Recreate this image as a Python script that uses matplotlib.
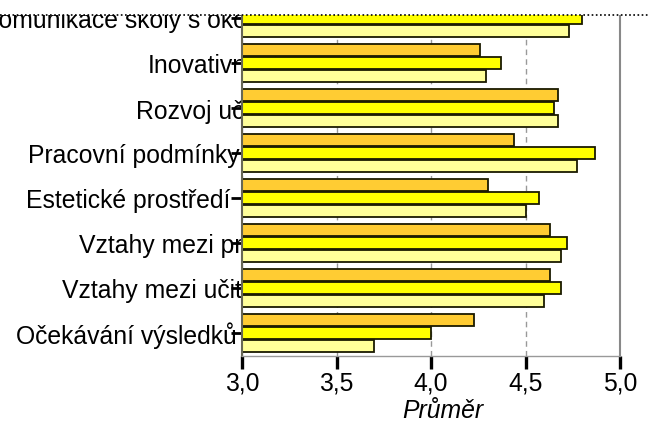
import matplotlib
matplotlib.use("Agg")
import matplotlib.pyplot as plt
from matplotlib.lines import Line2D
from matplotlib.patches import Rectangle

plt.rcParams['font.family'] = ['Liberation Sans', 'DejaVu Sans']

# bottom to top
categories = ["Očekávání výsledků", "Vztahy mezi učiteli", "Vztahy mezi pracovníky",
              "Estetické prostředí", "Pracovní podmínky", "Rozvoj učitelů",
              "Inovativnost", "Komunikace školy s okolím"]
series_a = [4.23, 4.63, 4.63, 4.30, 4.44, 4.67, 4.26, 4.78]   # orange (top bar)
series_b = [4.00, 4.69, 4.72, 4.57, 4.87, 4.65, 4.37, 4.80]   # yellow
series_c = [3.70, 4.60, 4.69, 4.50, 4.77, 4.67, 4.29, 4.73]   # light yellow
xticks = [3.0, 3.5, 4.0, 4.5, 5.0]
xtick_labels = ["3,0", "3,5", "4,0", "4,5", "5,0"]

# layout: where each label starts (pixels from the left edge)
label_x_px = [16, 62, 79, 26, 28, 136, 148, -18]

W, H = 648, 422
ax_l, ax_r, ax_b, ax_t = 242, 620, 356, 15
fs = 17.8

fig = plt.figure(figsize=(W / 100, H / 100), dpi=100)
ax = fig.add_axes([ax_l / W, 1 - ax_b / H, (ax_r - ax_l) / W, (ax_b - ax_t) / H])

xmin = 3.0
bh = 0.26
off = 0.285
colors = ['#FFCC33', '#FFFF00', '#FFFF99']
for vals, dy, c in zip([series_a, series_b, series_c], [off, 0, -off], colors):
    ax.barh([i + dy for i in range(len(categories))], [v - xmin for v in vals],
            left=xmin, height=bh, color=c, edgecolor='#1a1a00', linewidth=1.3, zorder=1)

ax.set_xlim(3.0, 5.0)
ax.set_ylim(-0.511, 7.067)
ax.set_axisbelow(True)
ax.xaxis.grid(True, linestyle=(0, (4, 3)), color='#999999', linewidth=1)

ax.set_xticks(xticks)
ax.set_xticklabels(xtick_labels, fontsize=fs)
ax.tick_params(axis='x', length=9.5, width=2.4, color='black', pad=2)
ax.set_yticks(range(len(categories)))
ax.set_yticklabels([])
ax.tick_params(axis='y', length=8, width=2, color='black')

ax.spines['top'].set_visible(False)
ax.spines['bottom'].set_color('#999999')
ax.spines['bottom'].set_linewidth(1)
ax.spines['left'].set_color('#666655')
ax.spines['left'].set_linewidth(1.5)
ax.spines['right'].set_color('#888888')
ax.spines['right'].set_linewidth(1.5)

tr = ax.get_yaxis_transform()
for i, (name, xp) in enumerate(zip(categories, label_x_px)):
    ax.text((xp - ax_l) / (ax_r - ax_l), i, name, transform=tr, ha='left',
            va='center_baseline', fontsize=fs, clip_on=False, zorder=0.6)

fig.text(443 / W, 4 / H, "Průměr", ha='center', va='baseline', fontsize=fs, style='italic')

# top edge of the cropped chart
fig.add_artist(Rectangle((0, 1 - ax_t / H), 1, ax_t / H, transform=fig.transFigure,
                         facecolor='white', edgecolor='none', zorder=10))
fig.add_artist(Line2D([0, 1], [1 - ax_t / H, 1 - ax_t / H], transform=fig.transFigure,
                      color='black', linestyle=(0, (1, 1.5)), linewidth=1.2, zorder=11))

fig.savefig("out.png", dpi=100)
